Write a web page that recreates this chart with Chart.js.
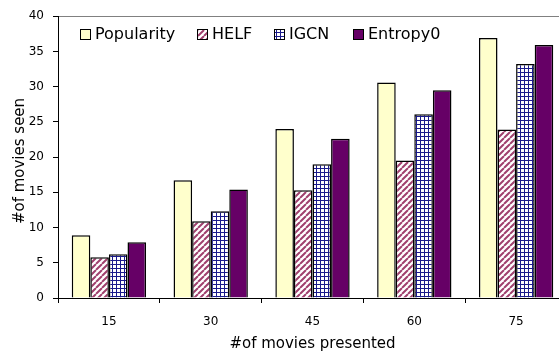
<!DOCTYPE html>
<html lang="en">
  <head>
    <meta charset="UTF-8" />
    <title>Movies seen</title>
    <style>
      * {
        margin: 0;
        padding: 0;
      }
      body {
        width: 559px;
        height: 354px;
        overflow: hidden;
        background: white;
      }
      .chartBox {
        width: 567px;
        height: 354px;
      }
    </style>
  </head>
  <body>
    <div class="chartBox">
      <canvas id="myChart"></canvas>
    </div>

    <script src="https://cdn.jsdelivr.net/npm/chart.js"></script>
    <script>
      const categories = ["15", "30", "45", "60", "75"];
      const popularity = [8.9, 16.7, 24.0, 30.6, 36.9];
      const helf = [5.8, 10.9, 15.3, 19.5, 23.9];
      const igcn = [6.2, 12.3, 19.0, 26.1, 33.2];
      const entropy0 = [7.9, 15.4, 22.6, 29.5, 35.9];

      const FONT = "'DejaVu Sans', Verdana, sans-serif";

      // hatch fills like the old office chart
      const stripes = (() => {
        const c = document.createElement("canvas");
        c.width = 6;
        c.height = 6;
        const g = c.getContext("2d");
        g.fillStyle = "#ffffff";
        g.fillRect(0, 0, 6, 6);
        g.strokeStyle = "#a0406e";
        g.lineWidth = 2;
        g.beginPath();
        for (let k = -6; k <= 12; k += 6) {
          g.moveTo(k, 6);
          g.lineTo(k + 6, 0);
        }
        g.stroke();
        return g.createPattern(c, "repeat");
      })();

      const grid = (() => {
        const c = document.createElement("canvas");
        c.width = 4;
        c.height = 4;
        const g = c.getContext("2d");
        g.fillStyle = "#e6e6f5";
        g.fillRect(0, 0, 4, 4);
        g.fillStyle = "#ffffff";
        g.fillRect(1, 1, 3, 3);
        g.fillStyle = "#1a1a8c";
        g.fillRect(0, 0, 4, 1);
        g.fillRect(0, 0, 1, 4);
        return g.createPattern(c, "repeat");
      })();

      // legend sits inside the plot, y title overlaps tick labels a bit
      const extras = {
        id: "extras",
        afterDraw(chart) {
          const ctx = chart.ctx;
          const xs = [80, 197, 274, 353];
          const y = 34;
          ctx.save();
          ctx.font = "16px " + FONT;
          ctx.textBaseline = "middle";
          chart.data.datasets.forEach((ds, i) => {
            ctx.fillStyle = ds.backgroundColor;
            ctx.fillRect(xs[i], y - 5, 10, 10);
            ctx.strokeStyle = "#000";
            ctx.lineWidth = 1;
            ctx.strokeRect(xs[i] + 0.5, y - 4.5, 10, 10);
            ctx.fillStyle = "#000";
            ctx.fillText(ds.label, xs[i] + 15, y + 1);
          });

          ctx.translate(20, 161);
          ctx.rotate(-Math.PI / 2);
          ctx.font = "15px " + FONT;
          ctx.textAlign = "center";
          ctx.fillText("#of movies seen", 0, 0);
          ctx.restore();
        },
      };

      const bar = (label, data, fill) => ({
        label: label,
        data: data,
        backgroundColor: fill,
        borderColor: "#000",
        borderWidth: 1.5,
        borderSkipped: "bottom",
        categoryPercentage: 0.73,
        barPercentage: 1.0,
      });

      new Chart(document.getElementById("myChart"), {
        type: "bar",
        data: {
          labels: categories,
          datasets: [
            bar("Popularity", popularity, "#ffffcc"),
            bar("HELF", helf, stripes),
            bar("IGCN", igcn, grid),
            bar("Entropy0", entropy0, "#660066"),
          ],
        },
        plugins: [extras],
        options: {
          responsive: true,
          maintainAspectRatio: false,
          animation: false,
          layout: { padding: { top: 16, right: 0, bottom: 0, left: 0 } },
          plugins: { legend: { display: false }, tooltip: { enabled: false } },
          scales: {
            x: {
              afterFit: (s) => {
                s.height = 56;
              },
              grid: {
                offset: true,
                drawOnChartArea: false,
                tickLength: 5,
                color: "#000",
              },
              border: { color: "#000", width: 1 },
              ticks: {
                color: "#000",
                font: { family: FONT, size: 12 },
                padding: 12,
              },
              title: {
                display: true,
                text: "#of movies presented",
                color: "#000",
                font: { family: FONT, size: 15 },
                padding: { top: 0, bottom: 1 },
              },
            },
            y: {
              min: 0,
              max: 40,
              afterFit: (s) => {
                s.width = 58;
              },
              ticks: {
                stepSize: 5,
                color: "#000",
                font: { family: FONT, size: 12 },
                padding: 9,
              },
              grid: {
                tickLength: 5,
                color: (c) => (c.tick && c.tick.value === 40 ? "#808080" : "rgba(0,0,0,0)"),
                tickColor: "#000",
              },
              border: { color: "#000", width: 1 },
            },
          },
        },
      });
    </script>
  </body>
</html>
